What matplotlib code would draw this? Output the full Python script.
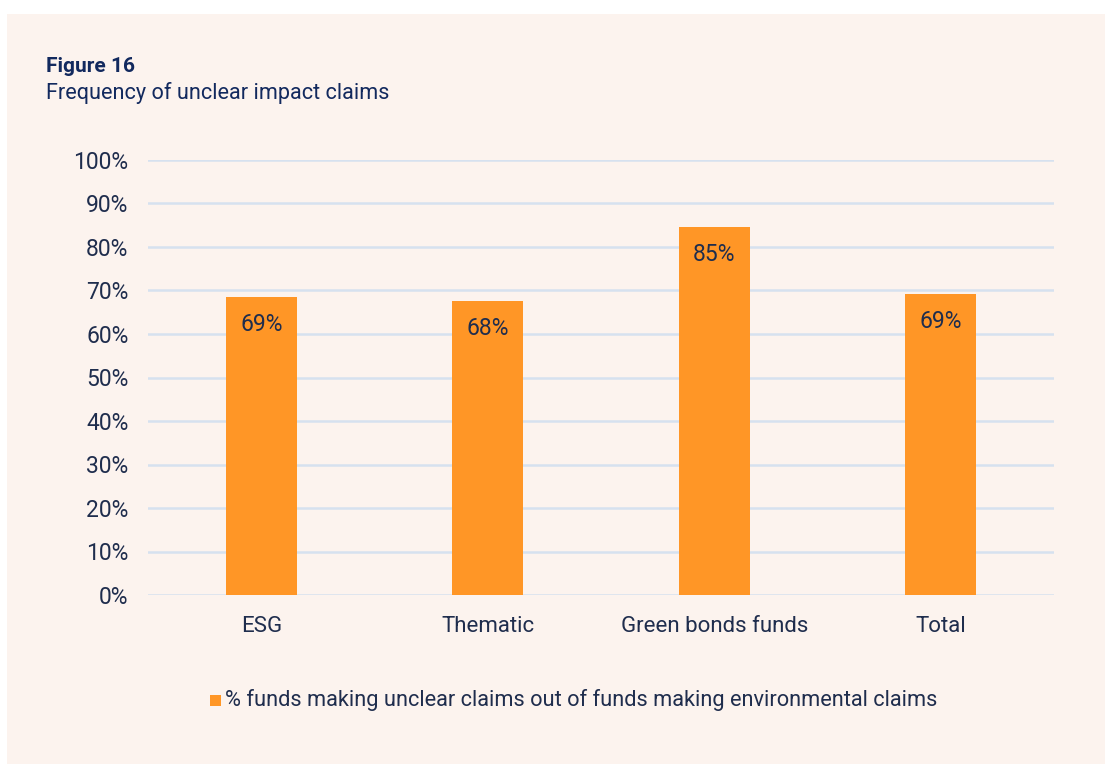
import matplotlib.pyplot as plt
from matplotlib.patches import Rectangle

categories = ["ESG", "Thematic", "Green bonds funds", "Total"]
values = [68.6, 67.7, 84.6, 69.2]
value_labels = ["69%", "68%", "85%", "69%"]
yticks = [0, 10, 20, 30, 40, 50, 60, 70, 80, 90, 100]
series_name = "% funds making unclear claims out of funds making environmental claims"

BG = "#FCF3EE"
BAR = "#FF9626"
GRID = "#D6E1EF"
TEXT = "#1F2D4D"
TITLE = "#12295E"

plt.rcParams["font.family"] = ["Roboto", "DejaVu Sans"]

W, H = 1105, 764
fig = plt.figure(figsize=(W / 100, H / 100), dpi=100)
fig.patch.set_facecolor("white")
fig.patches.append(Rectangle((7 / W, 0), 1 - 7 / W, 1 - 14 / H,
                             transform=fig.transFigure, facecolor=BG,
                             edgecolor="none", zorder=-5))

ax = fig.add_axes([148 / W, 1 - 595 / H, (1054 - 148) / W, (595 - 160) / H])
ax.set_zorder(2)
ax.set_facecolor("none")
x = list(range(len(categories)))
bars = ax.bar(x, values, width=0.313, color=BAR, zorder=3)
for b, lab in zip(bars, value_labels):
    ax.annotate(lab, (b.get_x() + b.get_width() / 2, b.get_height()),
                xytext=(0, -28), textcoords="offset pixels",
                ha="center", va="center", fontsize=16.5, color=TEXT, zorder=4)

ax.set_xlim(-0.5, 3.5)
ax.set_ylim(0, 100)
ax.set_yticks(yticks)
ax.set_yticklabels([f"{t}%" for t in yticks])
ax.set_xticks(x)
ax.set_xticklabels(categories)
ax.tick_params(axis="both", length=0, labelcolor=TEXT)
ax.tick_params(axis="y", pad=14, labelsize=16.5)
ax.tick_params(axis="x", pad=15, labelsize=16)
ax.grid(axis="y", color=GRID, linewidth=1.8, zorder=0)
ax.set_axisbelow(True)
for s in ax.spines.values():
    s.set_visible(False)

fig.text(46 / W, 1 - 67 / H, "Figure 16", fontsize=15, fontweight="bold",
         color=TITLE, va="center", ha="left")
fig.text(46 / W, 1 - 93 / H, "Frequency of unclear impact claims", fontsize=15.6,
         color=TITLE, va="center", ha="left")

fig.patches.append(Rectangle((210 / W, 1 - 706 / H), 11 / W, 11 / H,
                             transform=fig.transFigure, facecolor=BAR,
                             edgecolor="none", zorder=2))
fig.text(225 / W, 1 - 700 / H, series_name, fontsize=15.7, color=TEXT,
         va="center", ha="left")

fig.savefig("out.png", dpi=100, facecolor=fig.get_facecolor())
